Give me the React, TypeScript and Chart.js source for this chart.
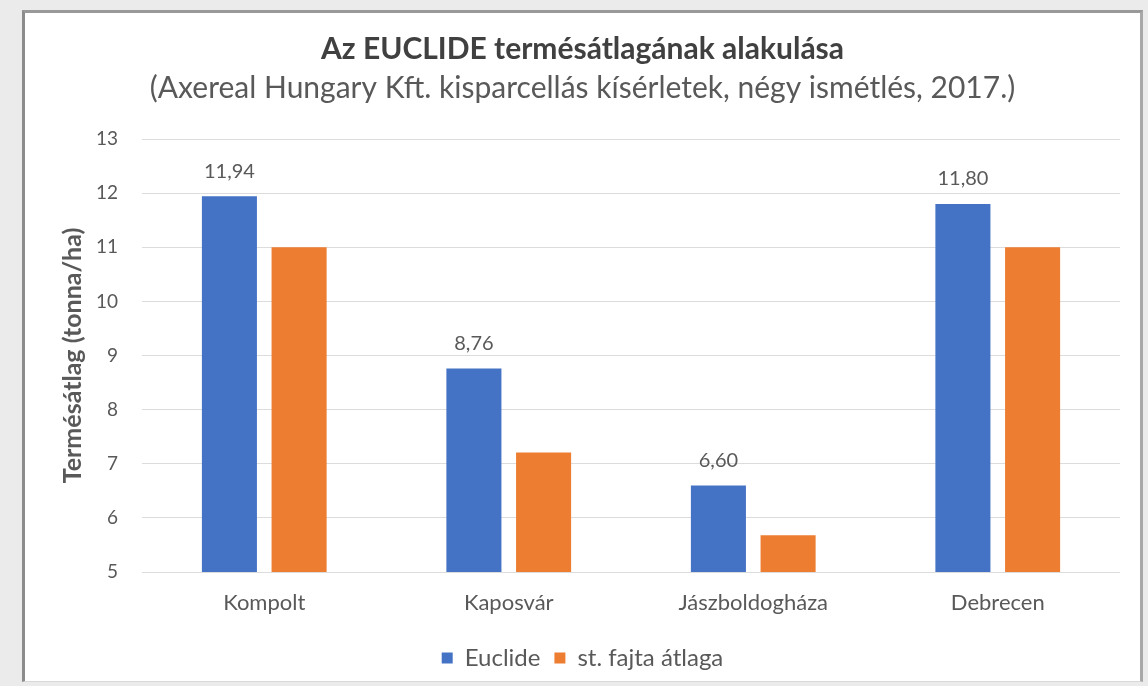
import React, { useEffect, useRef } from "react";
import { Chart, registerables } from "chart.js";

Chart.register(...registerables);

const categories = ["Kompolt", "Kaposvár", "Jászboldogháza", "Debrecen"];
const euclideValues = [11.94, 8.76, 6.6, 11.8];
const averageValues = [11.0, 7.21, 5.68, 11.0];
const seriesNames = ["Euclide", "st. fajta átlaga"];
const titleText = "Az EUCLIDE termésátlagának alakulása";
const subtitleText = "(Axereal Hungary Kft. kisparcellás kísérletek, négy ismétlés, 2017.)";
const yAxisTitle = "Termésátlag (tonna/ha)";
const yMin = 5;
const yMax = 13;

const FONT = "Lato, 'Open Sans', sans-serif";
const GRAY = "#595959";

const valueLabels = {
  id: "valueLabels",
  afterDatasetsDraw(chart: any) {
    const ctx = chart.ctx;
    const meta = chart.getDatasetMeta(0);
    const data = chart.data.datasets[0].data as number[];
    ctx.save();
    ctx.font = `20px ${FONT}`;
    ctx.fillStyle = GRAY;
    ctx.textAlign = "center";
    ctx.textBaseline = "middle";
    meta.data.forEach((bar: any, i: number) => {
      const txt = data[i].toFixed(2).replace(".", ",");
      ctx.fillText(txt, bar.x, bar.y - 25);
    });
    ctx.restore();
  },
};

export default function App() {
  const ref = useRef<HTMLCanvasElement>(null);
  useEffect(() => {
    if (!ref.current) return;
    const chart = new Chart(ref.current, {
      type: "bar",
      data: {
        labels: categories,
        datasets: [
          {
            label: seriesNames[0],
            data: euclideValues,
            backgroundColor: "#4472C4",
            categoryPercentage: 0.57,
            barPercentage: 0.79,
          },
          {
            label: seriesNames[1],
            data: averageValues,
            backgroundColor: "#ED7D31",
            categoryPercentage: 0.57,
            barPercentage: 0.79,
          },
        ],
      },
      options: {
        responsive: false,
        animation: false,
        layout: { padding: { left: 0, right: 0, top: 0, bottom: 1 } },
        plugins: {
          title: {
            display: true,
            text: titleText,
            color: "#404040",
            font: { family: FONT, size: 30, weight: "bold" },
            padding: { top: 18, bottom: 3 },
          },
          subtitle: {
            display: true,
            text: subtitleText,
            color: GRAY,
            font: { family: FONT, size: 30, weight: "normal" },
            padding: { top: 0, bottom: 33 },
          },
          legend: {
            position: "bottom",
            labels: {
              boxWidth: 11,
              boxHeight: 11,
              color: GRAY,
              font: { family: FONT, size: 24 },
              padding: 14,
            },
          },
          tooltip: { enabled: false },
        },
        scales: {
          x: {
            afterFit(s: any) {
              s.height = 60;
            },
            grid: { display: false, drawTicks: false },
            border: { display: false },
            ticks: {
              color: GRAY,
              font: { family: FONT, size: 22 },
              padding: 18,
            },
          },
          y: {
            min: yMin,
            max: yMax,
            afterFit(s: any) {
              s.width = 117;
            },
            grid: { color: "#dcdcdc", lineWidth: 1, drawTicks: false },
            border: { display: false },
            ticks: {
              stepSize: 1,
              color: GRAY,
              font: { family: FONT, size: 19 },
              padding: 24,
            },
            title: {
              display: true,
              text: yAxisTitle,
              color: GRAY,
              font: { family: FONT, size: 25, weight: "bold" },
              padding: { top: 33, bottom: 0 },
            },
          },
          yR: {
            position: "right",
            display: true,
            afterFit(s: any) {
              s.width = 20;
            },
            grid: { display: false, drawTicks: false },
            border: { display: false },
            ticks: { display: false },
          },
        },
      },
      plugins: [valueLabels],
    } as any);
    return () => chart.destroy();
  }, []);

  return (
    <div style={{ position: "fixed", inset: 0, background: "#ebebeb" }}>
      <div
        style={{
          position: "absolute",
          left: 22,
          top: 10,
          width: 1115,
          height: 668,
          background: "#ffffff",
          borderLeft: "3px solid #8c8c8c",
          borderTop: "3px solid #999999",
          borderRight: "3px solid #a8a8a8",
          borderBottom: "1px solid #d8d8d8",
        }}
      >
        <canvas ref={ref} width={1115} height={668} style={{ display: "block" }} />
      </div>
    </div>
  );
}
